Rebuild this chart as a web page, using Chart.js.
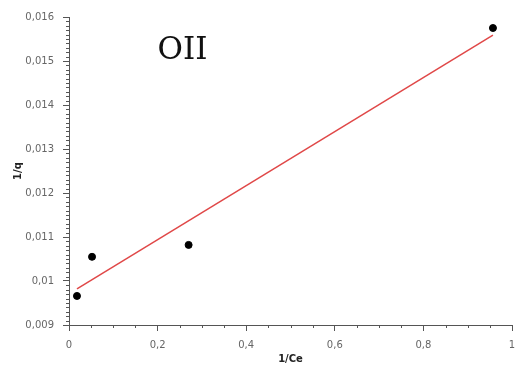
<!DOCTYPE html>
<html>
<head>
<meta charset="utf-8">
<script src="https://cdn.jsdelivr.net/npm/chart.js@4"></script>
<style>
  html, body { margin: 0; padding: 0; background: #fff; }
  #wrap { width: 517px; height: 372px; position: relative; }
</style>
</head>
<body>
<div id="wrap"><canvas id="chart"></canvas></div>
<script>
// measured points (1/Ce, 1/q)
const invCe = [0.018, 0.052, 0.27, 0.957];
const invQ = [0.00966, 0.01055, 0.01082, 0.01575];

// linear fit end points
const fitX = [0.018, 0.957];
const fitY = [0.00982, 0.01559];

const xTicks = [0, 0.2, 0.4, 0.6, 0.8, 1];
const yTicks = [0.009, 0.01, 0.011, 0.012, 0.013, 0.014, 0.015, 0.016];

const fmt = v => Number(v.toFixed(4)).toLocaleString('de-DE', { maximumFractionDigits: 4 });

// small ticks between the labelled ones
const minorTicks = {
    id: 'minorTicks',
    afterDraw(chart) {
        const ctx = chart.ctx;
        const xs = chart.scales.x, ys = chart.scales.y;
        ctx.save();
        ctx.strokeStyle = '#555';
        ctx.lineWidth = 1;
        ctx.beginPath();
        for (let i = 0; i <= 20; i++) {
            if (i % 4 === 0) continue;
            const px = Math.round(xs.getPixelForValue(i * 0.05)) + 0.5;
            ctx.moveTo(px, xs.top);
            ctx.lineTo(px, xs.top + 3);
        }
        for (let i = 0; i <= 70; i++) {
            if (i % 10 === 0) continue;
            const py = Math.round(ys.getPixelForValue(0.009 + i * 0.0001)) + 0.5;
            ctx.moveTo(ys.right, py);
            ctx.lineTo(ys.right - 3, py);
        }
        ctx.stroke();

        // chart label
        ctx.fillStyle = '#111';
        ctx.font = '31px "DejaVu Serif"';
        ctx.textAlign = 'left';
        ctx.textBaseline = 'alphabetic';
        ctx.fillText('OII', xs.getPixelForValue(0.2), ys.getPixelForValue(0.01505));
        ctx.restore();
    }
};

new Chart(document.getElementById('chart'), {
    type: 'scatter',
    data: {
        datasets: [{
            label: 'data',
            data: invCe.map((x, i) => ({ x: x, y: invQ[i] })),
            backgroundColor: '#000',
            borderColor: '#000',
            pointRadius: 3.5,
            order: 1
        }, {
            label: 'fit',
            type: 'line',
            data: fitX.map((x, i) => ({ x: x, y: fitY[i] })),
            borderColor: '#e04848',
            borderWidth: 1.5,
            pointRadius: 0,
            fill: false,
            order: 2
        }]
    },
    options: {
        responsive: true,
        maintainAspectRatio: false,
        animation: false,
        devicePixelRatio: 1,
        layout: { padding: { top: 17, right: 0, left: 0, bottom: 0 } },
        plugins: {
            legend: { display: false },
            tooltip: { enabled: false }
        },
        scales: {
            x: {
                type: 'linear',
                min: 0,
                max: 1,
                afterBuildTicks: s => { s.ticks = xTicks.map(v => ({ value: v })); },
                afterFit: s => { s.height = 47; s.paddingRight = 4; s.paddingLeft = 0; },
                border: { color: '#555', width: 1 },
                grid: { drawOnChartArea: false, tickLength: 6, tickColor: '#555' },
                ticks: {
                    color: '#666',
                    font: { family: 'DejaVu Sans', size: 10 },
                    padding: 8,
                    maxRotation: 0,
                    callback: v => fmt(v)
                },
                title: {
                    display: true,
                    text: '1/Ce',
                    color: '#222',
                    font: { family: 'DejaVu Sans', size: 10, weight: 'bold' },
                    padding: { top: 0, bottom: 7 }
                }
            },
            y: {
                type: 'linear',
                min: 0.009,
                max: 0.016,
                afterBuildTicks: s => { s.ticks = yTicks.map(v => ({ value: v })); },
                afterFit: s => { s.width = 69; },
                border: { color: '#555', width: 1 },
                grid: { drawOnChartArea: false, tickLength: 6, tickColor: '#555' },
                ticks: {
                    color: '#666',
                    font: { family: 'DejaVu Sans', size: 10 },
                    padding: 9,
                    callback: v => fmt(v)
                },
                title: {
                    display: true,
                    text: '1/q',
                    color: '#222',
                    font: { family: 'DejaVu Sans', size: 10, weight: 'bold' },
                    padding: { top: 12, bottom: 4 }
                }
            }
        }
    },
    plugins: [minorTicks]
});
</script>
</body>
</html>
